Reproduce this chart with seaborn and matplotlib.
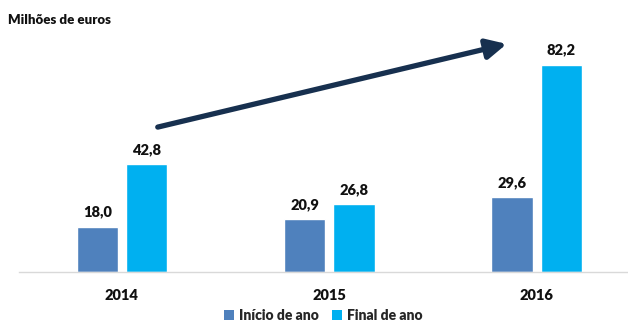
import matplotlib
matplotlib.use("Agg")
import matplotlib.pyplot as plt
import seaborn as sns
import pandas as pd
from matplotlib.patches import Patch
from matplotlib.font_manager import FontProperties

years = ["2014", "2015", "2016"]
series_names = ["Início de ano", "Final de ano"]
inicio = [18.0, 20.9, 29.6]
final = [42.8, 26.8, 82.2]
colors = ["#4F81BD", "#00B0F0"]

df = pd.DataFrame({
    "ano": years * 2,
    "serie": [series_names[0]] * 3 + [series_names[1]] * 3,
    "valor": inicio + final,
})

sns.set_theme(style="white")
plt.rcParams["font.family"] = ["Lato", "DejaVu Sans"]

fig = plt.figure(figsize=(6.28, 3.23), dpi=100)
ax = fig.add_axes([19 / 628, 51 / 323, 609 / 628, 252 / 323])

sns.barplot(data=df, x="ano", y="valor", hue="serie", palette=colors,
            width=0.475, gap=0.16, ax=ax, legend=False, saturation=1)

for cont in ax.containers:
    labels = [f"{v:.1f}".replace(".", ",") for v in cont.datavalues]
    ax.bar_label(cont, labels=labels, padding=6, fontsize=10.5,
                 fontweight="heavy", color="#111111")

ax.set_xlim(-0.496, 2.44)
ax.set_ylim(0, 100)
ax.set_xlabel("")
ax.set_ylabel("")
ax.set_yticks([])
ax.tick_params(axis="x", length=0, pad=12, labelsize=10.5)
for lab in ax.get_xticklabels():
    lab.set_fontweight("heavy")
    lab.set_color("#111111")
for s in ["top", "right", "left"]:
    ax.spines[s].set_visible(False)
ax.spines["bottom"].set_color("#D9D9D9")
ax.spines["bottom"].set_linewidth(1)

# trend arrow across the years
ax.annotate("", xy=(1.855, 90.5), xytext=(0.173, 57.5),
            arrowprops=dict(arrowstyle="-|>,head_length=1.0,head_width=0.5",
                            color="#17304F", lw=3.8, shrinkA=0, shrinkB=0))

fig.text(8 / 628, 1 - 20 / 323, "Milhões de euros", fontsize=9.5,
         fontweight="heavy", color="#111111", va="center", ha="left")

legend_font = FontProperties(family=["Lato", "DejaVu Sans"], weight="heavy", size=10)
handles = [Patch(facecolor=c, edgecolor="none") for c in colors]
fig.legend(handles, series_names, loc="center", bbox_to_anchor=(0.515, 1 - 315 / 323),
           ncol=2, frameon=False, handlelength=0.7, handleheight=0.7,
           handletextpad=0.4, columnspacing=0.9, prop=legend_font)

fig.savefig("out.png", dpi=100)
